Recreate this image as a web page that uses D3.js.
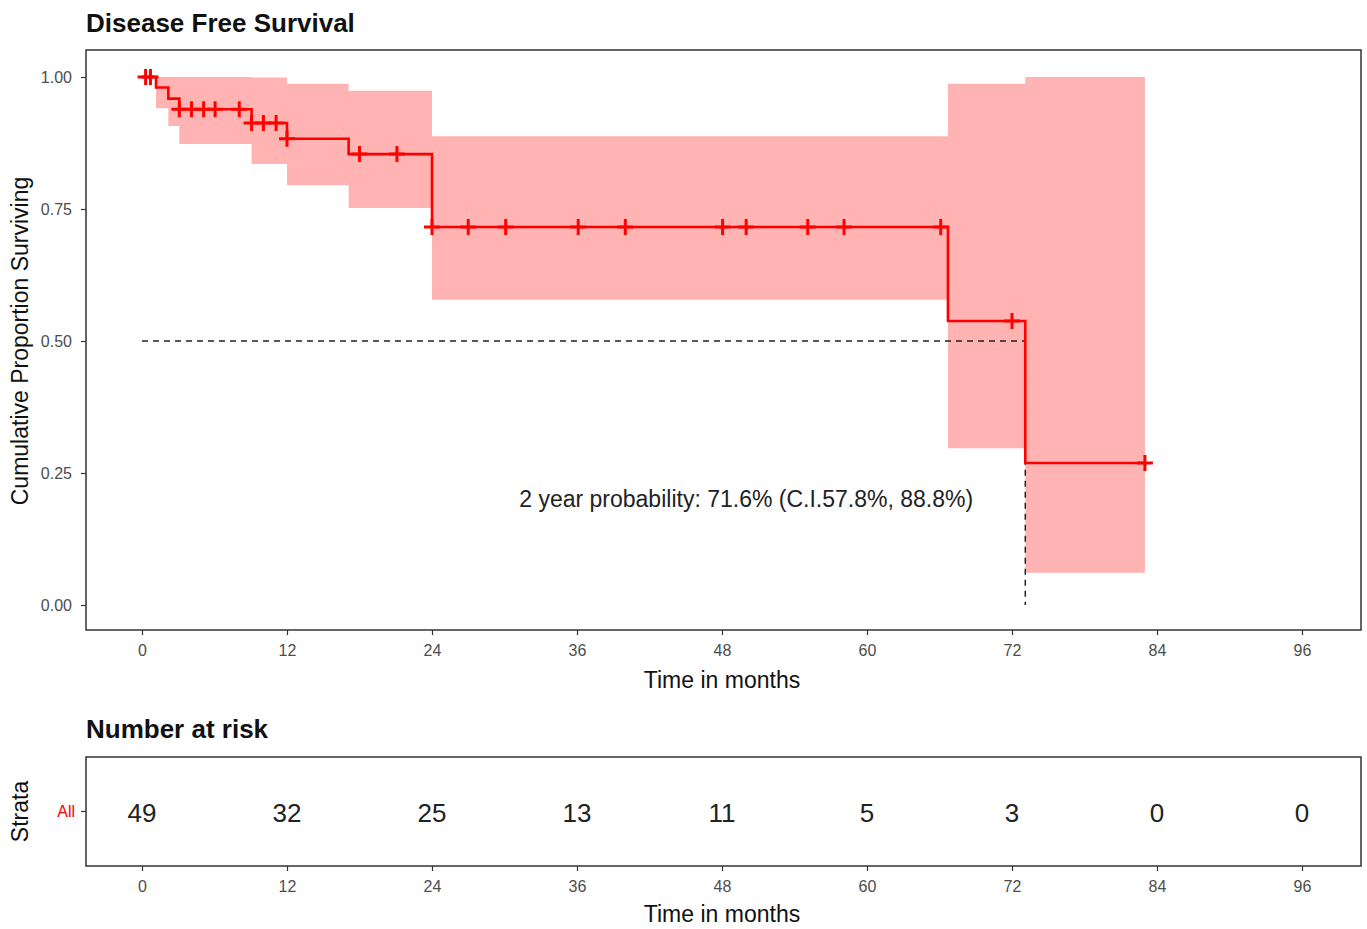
<!DOCTYPE html>
<html>
<head>
<meta charset="utf-8">
<script src="https://cdn.jsdelivr.net/npm/d3@7"></script>
<style>
    body { margin: 0; background: #fff; }
    text { font-family: "Liberation Sans", Arial, sans-serif; }
    .tick line { stroke: #333; stroke-width: 1.2; }
    .domain { display: none; }
</style>
</head>
<body>
<script>
// survival curve
var stepTimes = [0, 1.16, 2.18, 3.09, 9.07, 12, 17.1, 24, 66.7, 73.1];
var survival = [1, 0.980, 0.959, 0.939, 0.913, 0.883, 0.854, 0.716, 0.538, 0.269];
var upperCI = [1, 1, 1, 1, 0.999, 0.987, 0.974, 0.888, 0.987, 1];
var lowerCI = [1, 0.941, 0.907, 0.873, 0.835, 0.795, 0.752, 0.578, 0.297, 0.061];
var lastTime = 83;
var censorTimes = [0.3, 0.7, 3.09, 4.1, 5.1, 6.05, 8.05, 9.07, 10.05, 11.1, 12, 18, 21.1,
    24, 27, 30.1, 36.1, 40, 48.05, 50, 55.1, 58.1, 66.1, 72, 83];
var timeTicks = [0, 12, 24, 36, 48, 60, 72, 84, 96];
var survTicks = [0, 0.25, 0.5, 0.75, 1];
var atRisk = [49, 32, 25, 13, 11, 5, 3, 0, 0];
var stratum = 'All';
var note = '2 year probability: 71.6% (C.I.57.8%, 88.8%)';

(function() {
    var w = 1367,
        h = 929;
    var svg = d3.select('body')
        .append('svg')
        .attr('width', w)
        .attr('height', h);

    var x = d3.scaleLinear().domain([0, 96]).range([142, 1302]);
    var y = d3.scaleLinear().domain([0, 1]).range([605, 77]);
    var panel = {left: 86, right: 1361, top: 50, bottom: 630};
    var red = '#ff0000';

    // step function value at time t (right-continuous)
    var survAt = function(t) {
        var i = d3.bisectRight(stepTimes, t) - 1;
        return survival[Math.max(i, 0)];
    };
    var styleTicks = function(g) {
        g.selectAll('.tick text')
            .attr('font-size', 16)
            .attr('font-family', '"Liberation Sans", Arial, sans-serif')
            .attr('fill', '#4d4d4d');
    };

    svg.append('text')
        .attr('x', 86).attr('y', 32)
        .attr('font-size', 26).attr('font-weight', 'bold').attr('fill', '#111')
        .text('Disease Free Survival');

    // confidence band (starts at first event)
    var band = stepTimes.map(function(t, i) {
        return {t: t, lo: lowerCI[i], hi: upperCI[i]};
    }).slice(1);
    band.push({t: lastTime, lo: lowerCI[lowerCI.length - 1], hi: upperCI[upperCI.length - 1]});
    svg.append('path')
        .datum(band)
        .attr('fill', '#ffb3b3')
        .attr('d', d3.area()
            .x(function(d) { return x(d.t); })
            .y0(function(d) { return y(d.lo); })
            .y1(function(d) { return y(d.hi); })
            .curve(d3.curveStepAfter));

    // median lines
    var medIdx = survival.findIndex(function(s) { return s <= 0.5; });
    var medT = stepTimes[medIdx];
    svg.append('path')
        .attr('d', d3.line()([[x(0), y(0.5)], [x(medT), y(0.5)], [x(medT), y(0)]]))
        .attr('fill', 'none')
        .attr('stroke', '#222')
        .attr('stroke-width', 1.5)
        .attr('stroke-dasharray', '6,5');

    // KM curve
    var pts = stepTimes.map(function(t, i) { return [t, survival[i]]; });
    pts.push([lastTime, survival[survival.length - 1]]);
    svg.append('path')
        .datum(pts)
        .attr('fill', 'none')
        .attr('stroke', red)
        .attr('stroke-width', 2.6)
        .attr('d', d3.line()
            .x(function(d) { return x(d[0]); })
            .y(function(d) { return y(d[1]); })
            .curve(d3.curveStepAfter));

    // censor marks
    svg.append('g')
        .selectAll('path')
        .data(censorTimes)
        .enter()
        .append('path')
        .attr('transform', function(t) { return 'translate(' + x(t) + ',' + y(survAt(t)) + ')'; })
        .attr('d', 'M-8,0H8M0,-8V8')
        .attr('stroke', red)
        .attr('stroke-width', 3);

    svg.append('text')
        .attr('x', x(50)).attr('y', y(0.2) + 8)
        .attr('text-anchor', 'middle')
        .attr('font-size', 23).attr('fill', '#222')
        .text(note);

    // panel border
    svg.append('rect')
        .attr('x', panel.left).attr('y', panel.top)
        .attr('width', panel.right - panel.left)
        .attr('height', panel.bottom - panel.top)
        .attr('fill', 'none').attr('stroke', '#333').attr('stroke-width', 1.5);

    svg.append('g')
        .attr('transform', 'translate(0,' + panel.bottom + ')')
        .call(d3.axisBottom(x).tickValues(timeTicks).tickSize(5).tickPadding(10))
        .call(styleTicks);
    svg.append('g')
        .attr('transform', 'translate(' + panel.left + ',0)')
        .call(d3.axisLeft(y).tickValues(survTicks).tickFormat(d3.format('.2f')).tickSize(5).tickPadding(9))
        .call(styleTicks);

    svg.append('text')
        .attr('x', 722).attr('y', 688)
        .attr('text-anchor', 'middle')
        .attr('font-size', 23).attr('fill', '#111')
        .text('Time in months');
    svg.append('text')
        .attr('transform', 'translate(28,' + y(0.5) + ') rotate(-90)')
        .attr('text-anchor', 'middle')
        .attr('font-size', 23).attr('fill', '#111')
        .text('Cumulative Proportion Surviving');

    // risk table
    var risk = {left: 86, right: 1361, top: 757, bottom: 866};
    var ry = (risk.top + risk.bottom) / 2;
    svg.append('text')
        .attr('x', 86).attr('y', 738)
        .attr('font-size', 26).attr('font-weight', 'bold').attr('fill', '#111')
        .text('Number at risk');
    svg.append('rect')
        .attr('x', risk.left).attr('y', risk.top)
        .attr('width', risk.right - risk.left)
        .attr('height', risk.bottom - risk.top)
        .attr('fill', 'none').attr('stroke', '#333').attr('stroke-width', 1.5);
    svg.append('g')
        .selectAll('text')
        .data(atRisk)
        .enter()
        .append('text')
        .attr('x', function(d, i) { return x(timeTicks[i]); })
        .attr('y', ry + 10)
        .attr('text-anchor', 'middle')
        .attr('font-size', 26).attr('fill', '#222')
        .text(function(d) { return d; });
    svg.append('g')
        .attr('transform', 'translate(0,' + risk.bottom + ')')
        .call(d3.axisBottom(x).tickValues(timeTicks).tickSize(5).tickPadding(10))
        .call(styleTicks);
    var sy = d3.scaleBand().domain([stratum]).range([risk.bottom, risk.top]);
    svg.append('g')
        .attr('transform', 'translate(' + risk.left + ',0)')
        .call(d3.axisLeft(sy).tickSize(5).tickPadding(6))
        .call(styleTicks)
        .selectAll('.tick text').attr('fill', red);
    svg.append('text')
        .attr('x', 722).attr('y', 922)
        .attr('text-anchor', 'middle')
        .attr('font-size', 23).attr('fill', '#111')
        .text('Time in months');
    svg.append('text')
        .attr('transform', 'translate(28,' + ry + ') rotate(-90)')
        .attr('text-anchor', 'middle')
        .attr('font-size', 23).attr('fill', '#111')
        .text('Strata');
})();
</script>
</body>
</html>
